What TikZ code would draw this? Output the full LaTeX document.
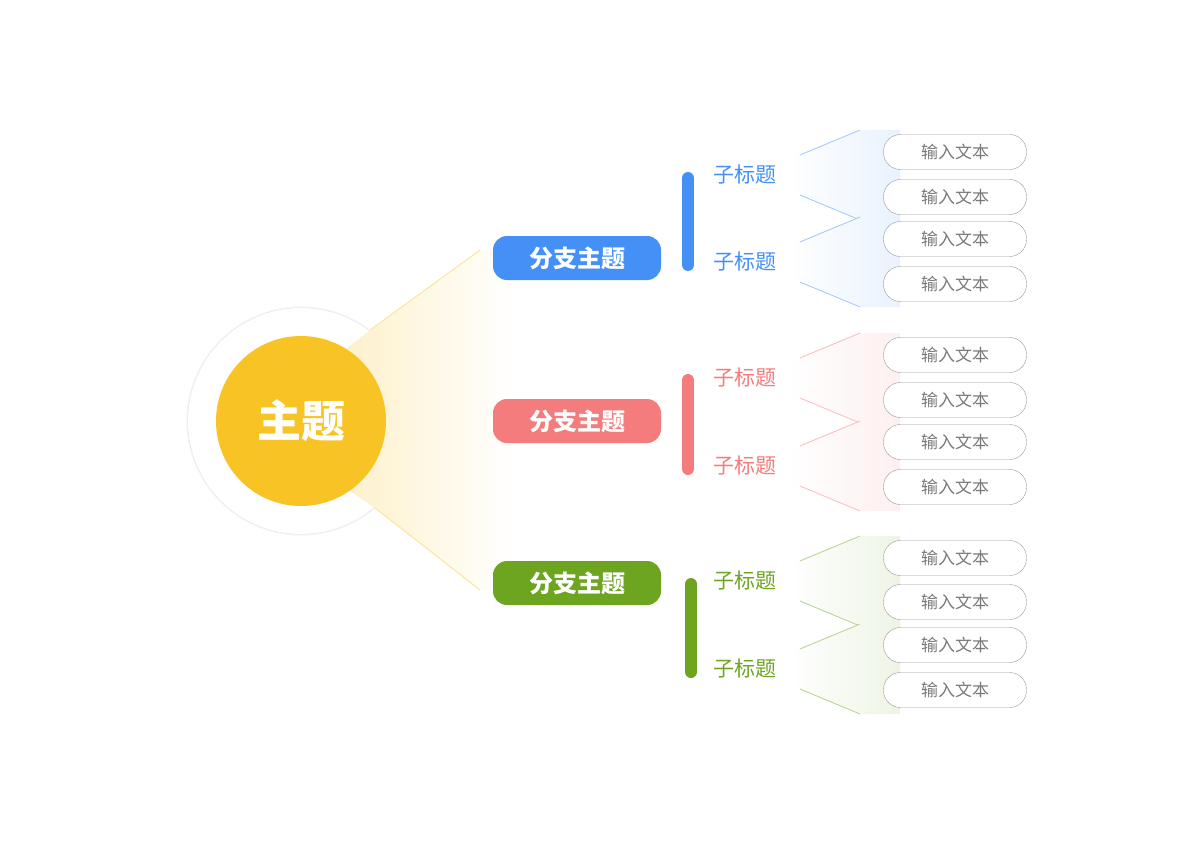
\documentclass[tikz,border=0pt]{standalone}
\usepackage{fontspec}
\setmainfont{Noto Sans CJK SC}
\usetikzlibrary{positioning,shadows.blur}
\definecolor{topicyellow}{HTML}{F7C325}
\definecolor{bblue}{HTML}{4490F7}
\definecolor{bred}{HTML}{F47C7C}
\definecolor{bgreen}{HTML}{6DA521}
\definecolor{boxgray}{HTML}{999999}
\definecolor{textgray}{HTML}{7A7A7A}
\begin{document}
\begin{tikzpicture}[x=1pt,y=-1pt]
        \tikzstyle{branch} = [rectangle, rounded corners=14pt, minimum width=168pt, minimum height=44pt, text=white, font=\fontsize{24}{24}\selectfont\bfseries, inner sep=0pt]
        \tikzstyle{subtitle} = [font=\fontsize{21}{21}\selectfont, inner sep=0pt]
        \tikzstyle{textbox} = [rectangle, rounded corners=17pt, draw=boxgray, fill=white, minimum width=143pt, minimum height=35pt, text=textgray, font=\fontsize{17}{17}\selectfont, inner sep=0pt]
        \tikzstyle{bar} = [line width=12pt, line cap=round]

        \useasboundingbox (0,0) rectangle (1200,848);

        \node (halo) [circle, fill=white, minimum size=226pt, blur shadow={shadow blur steps=10, shadow xshift=0pt, shadow yshift=0pt, shadow opacity=18}] at (301,421) {};

        % fan from the main topic
        \shade [left color=topicyellow!30, right color=white] (300,385) -- (370,330) -- (480,250) -- (515,250) -- (515,590) -- (480,590) -- (375,508) -- (300,457) -- cycle;
        \draw [topicyellow!50, thick] (370,330) -- (480,250);
        \draw [topicyellow!50, thick] (375,508) -- (480,590);

        \node (topic) [circle, fill=topicyellow, minimum size=170pt, text=white, font=\fontsize{44}{44}\selectfont\bfseries] at (301,421) {主题};

        \node (b1) [branch, fill=bblue] at (577,258) {分支主题};
        \node (b2) [branch, fill=bred] at (577,421) {分支主题};
        \node (b3) [branch, fill=bgreen] at (577,583) {分支主题};

        \coordinate (bar1a) at (688,178); \coordinate (bar1b) at (688,265);
        \coordinate (bar2a) at (688,380); \coordinate (bar2b) at (688,469);
        \coordinate (bar3a) at (691,584); \coordinate (bar3b) at (691,672);
        \draw [bar, bblue] (bar1a) -- (bar1b);
        \draw [bar, bred] (bar2a) -- (bar2b);
        \draw [bar, bgreen] (bar3a) -- (bar3b);

        % sub topics with their fans
        \foreach \c/\ya/\yb/\n in {bblue/175/262/1, bred/378/466/2, bgreen/581/669/3} {
            \foreach \y/\m in {\ya/a, \yb/b} {
                \shade [left color=white, right color=\c!12] (790,\y-18) -- (860,\y-45) -- (900,\y-45) -- (900,\y+45) -- (860,\y+45) -- (790,\y+18) -- cycle;
                \draw [\c!50, thick] (800,\y-20) -- (860,\y-45);
                \draw [\c!50, thick] (800,\y+20) -- (860,\y+45);
                \node (s\n\m) [subtitle, text=\c] at (745,\y) {子标题};
            }
        }

        \foreach \y [count=\i] in {152,197,239,284,355,400,442,487,558,602,645,690} {
            \node (t\i) [textbox] at (955,\y) {输入文本};
        }
    \end{tikzpicture}
\end{document}
